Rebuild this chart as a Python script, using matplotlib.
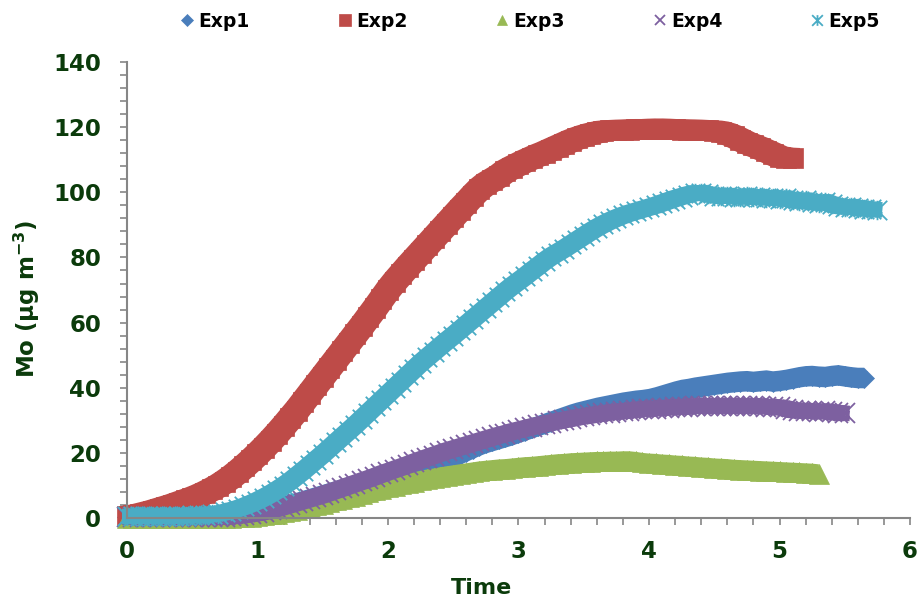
import numpy as np
import matplotlib.pyplot as plt
from matplotlib.path import Path
from matplotlib.transforms import offset_copy

# sampling step of the time series (h)
dt = 0.05

exp1 = [0.3, 0.3, 0.3, 0.3, 0.3, 0.3, 0.3, 0.3, 0.3, 0.3, 0.4, 0.4, 0.4, 0.5, 0.5, 0.6,
        0.8, 1.0, 1.3, 1.6, 1.9, 2.3, 2.7, 3.1, 3.6, 4.1, 4.6, 5.2, 5.8, 6.4,
        7.0, 7.6, 8.2, 8.8, 9.4, 10.0, 10.6, 11.2, 11.8, 12.4,
        13.0, 13.6, 14.1, 14.6, 15.1, 15.6, 16.1, 16.6, 17.2, 17.9,
        18.7, 19.5, 20.4, 21.3, 22.2, 23.0, 23.6, 24.2, 24.8, 25.4,
        26.1, 26.8, 27.5, 28.2, 28.9, 29.6, 30.3, 31.0, 31.7, 32.3,
        32.8, 33.3, 33.8, 34.2, 34.6, 35.0, 35.4, 35.7, 36.0, 36.2,
        36.5, 37.0, 37.6, 38.2, 38.8, 39.3, 39.6, 40.0, 40.3, 40.6,
        40.9, 41.2, 41.5, 41.7, 41.9, 42.0, 41.8, 42.0, 42.2, 41.9,
        42.1, 42.4, 42.8, 43.2, 43.5, 43.6, 43.4, 43.3, 43.6, 43.8,
        43.5, 43.2, 43.0, 43.0]

exp2 = [0.5, 0.8, 1.2, 1.7, 2.2, 2.8, 3.4, 4.0, 4.7, 5.4,
        6.1, 6.9, 7.8, 8.8, 9.9, 11.2, 12.6, 14.2, 15.9, 17.7,
        19.6, 21.6, 23.7, 25.9, 28.2, 30.6, 33.0, 35.6, 38.2, 40.8,
        43.4, 46.0, 48.6, 51.2, 53.8, 56.4, 59.0, 61.7, 64.4, 67.2,
        70.0, 72.5, 74.8, 77.1, 79.3, 81.5, 83.7, 85.9, 88.1, 90.3,
        92.5, 94.7, 96.8, 99.0, 101.0, 102.6, 103.8, 105.0, 106.5, 107.6,
        108.6, 109.6, 110.5, 111.4, 112.2, 113.1, 114.0, 114.9, 115.8, 116.6,
        117.3, 117.9, 118.4, 118.8, 119.0, 119.1, 119.2, 119.2, 119.3, 119.4,
        119.4, 119.5, 119.5, 119.4, 119.3, 119.2, 119.2, 119.2, 119.1, 119.0,
        118.9, 118.6, 118.0, 117.2, 116.2, 115.2, 114.4, 113.6, 112.7, 111.8,
        110.9, 110.6, 110.5]

exp3 = [0.1, 0.1, 0.1, 0.1, 0.1, 0.1, 0.1, 0.1, 0.1, 0.1, 0.1, 0.1, 0.1, 0.1, 0.1, 0.1, 0.1,
        0.2, 0.3, 0.4, 0.6, 0.8, 1.1, 1.4, 1.8, 2.2, 2.6, 3.0, 3.5, 3.9,
        4.4, 4.9, 5.4, 5.9, 6.4, 6.9, 7.4, 7.9, 8.5, 9.0,
        9.5, 9.9, 10.4, 10.8, 11.2, 11.6, 12.0, 12.3, 12.7, 13.0,
        13.3, 13.6, 13.9, 14.2, 14.5, 14.7, 14.9, 15.1, 15.2, 15.4,
        15.6, 15.8, 15.9, 16.1, 16.3, 16.5, 16.7, 16.8, 17.0, 17.1,
        17.2, 17.3, 17.4, 17.4, 17.5, 17.5, 17.6, 17.6, 17.4, 17.1,
        16.9, 16.8, 16.6, 16.5, 16.3, 16.2, 16.0, 15.9, 15.7, 15.6,
        15.4, 15.3, 15.2, 15.0, 14.9, 14.8, 14.7, 14.6, 14.5, 14.4,
        14.3, 14.2, 14.1, 14.0, 13.9, 13.8, 13.6]

exp4 = [0.3, 0.3, 0.3, 0.3, 0.3, 0.3, 0.3, 0.3, 0.3, 0.3, 0.3, 0.3, 0.3, 0.3, 0.3,
        0.4, 0.5, 0.7, 0.9, 1.2, 1.5, 1.9, 2.4, 2.9, 3.5, 4.1, 4.7, 5.3, 5.9, 6.5,
        7.1, 7.8, 8.5, 9.2, 9.9, 10.6, 11.3, 12.0, 12.7, 13.5,
        14.2, 14.9, 15.6, 16.3, 17.1, 17.8, 18.5, 19.2, 19.9, 20.6,
        21.2, 21.8, 22.4, 23.0, 23.6, 24.2, 24.8, 25.4, 25.9, 26.5,
        27.0, 27.5, 28.0, 28.5, 28.9, 29.3, 29.7, 30.1, 30.5, 30.9,
        31.2, 31.5, 31.8, 32.1, 32.4, 32.6, 32.8, 33.0, 33.2, 33.4,
        33.5, 33.6, 33.8, 33.9, 34.0, 34.1, 34.2, 34.3, 34.4, 34.4,
        34.4, 34.5, 34.4, 34.5, 34.4, 34.4, 34.3, 34.4, 34.2, 34.1,
        34.0, 33.6, 33.1, 32.9, 33.0, 32.8, 32.7, 32.8, 32.5, 32.3,
        32.1]

exp5 = [0.5, 0.5, 0.6, 0.5, 0.6, 0.6, 0.7, 0.6, 0.7, 0.7, 0.8, 0.8, 0.9,
        1.1, 1.4, 1.8, 2.3, 2.9, 3.6, 4.4,
        5.3, 6.3, 7.4, 8.6, 9.9, 11.3, 12.9, 14.5, 16.2, 17.9,
        19.6, 21.4, 23.2, 25.0, 26.8, 28.6, 30.5, 32.4, 34.3, 36.2,
        38.1, 40.0, 41.9, 43.8, 45.7, 47.6, 49.3, 51.0, 52.7, 54.4,
        56.0, 57.7, 59.4, 61.1, 62.8, 64.5, 66.2, 67.9, 69.6, 71.2,
        72.7, 74.2, 75.8, 77.3, 78.9, 80.3, 81.5, 82.7, 84.0, 85.3,
        86.6, 87.9, 89.1, 90.2, 91.2, 92.1, 92.9, 93.6, 94.2, 94.8,
        95.4, 96.0, 96.7, 97.4, 98.1, 98.7, 99.3, 99.8, 99.9, 99.4,
        99.0, 98.8, 99.0, 98.7, 98.6, 98.8, 98.5, 98.6, 98.3, 98.4,
        98.0, 98.2, 97.6, 97.3, 97.6, 97.0, 96.7, 97.1, 96.3, 95.8,
        95.5, 95.6, 95.2, 95.0, 94.8, 94.6]

labels = ['Exp1', 'Exp2', 'Exp3', 'Exp4', 'Exp5']
colors = ['#4A7EBB', '#BE4B48', '#98B954', '#7D60A0', '#4AACC5']

# star marker: vertical bar plus an x
star = Path([(0, -1), (0, 1), (-1, -1), (1, 1), (-1, 1), (1, -1)],
            [Path.MOVETO, Path.LINETO, Path.MOVETO, Path.LINETO, Path.MOVETO, Path.LINETO])

styles = [
    dict(marker='D', ms=10.5, mew=0.5),
    dict(marker='s', ms=14.5, mew=0.5),
    dict(marker='^', ms=14, mew=0.5),
    dict(marker='x', ms=14, mew=1.3),
    dict(marker=star, ms=14, mew=1.3),
]


def square_pts(a):
    return [(-a, -a), (0, -a), (a, -a), (a, 0), (a, a), (0, a), (-a, a), (-a, 0)]


# outline (points) swept along each series so the dense points read as one band
sweeps = [
    ([(0, 5.4), (2.6, 2.7), (4.3, 0), (2.6, -2.7), (0, -5.4),
      (-2.6, -2.7), (-4.3, 0), (-2.6, 2.7)], 12),
    (square_pts(5.3), 13),
    ([(0, 4.8), (2.6, 0), (5.0, -5.0), (0, -5.0), (-5.0, -5.0), (-2.6, 0)], 10),
    (square_pts(3.6), 11),
    (square_pts(3.6), 11),
]

txt_color = '#0b3b0b'
axis_color = '#868686'

fig = plt.figure(figsize=(9.22, 6.01), dpi=100)
ax = fig.add_axes([0.1377, 0.138, 0.8493, 0.7588])

for data, lab, col, st, (pts, core) in zip([exp1, exp2, exp3, exp4, exp5],
                                          labels, colors, styles, sweeps):
    t = np.arange(len(data)) * dt
    ax.plot(t, data, '-', lw=core, color=col, solid_joinstyle='round',
            solid_capstyle='butt', clip_on=False, label='_nolegend_')
    for dx, dy in pts:
        tr = offset_copy(ax.transData, fig=fig, x=dx, y=dy, units='points')
        ax.plot(t, data, '-', lw=4, color=col, transform=tr, solid_joinstyle='round',
                solid_capstyle='butt', clip_on=False, label='_nolegend_')
    ax.plot(t, data, linestyle='none', color=col, mec=col, mfc=col,
            label=lab, clip_on=False, **st)

ax.set_xlim(0, 6)
ax.set_ylim(0, 140)
ax.set_xticks(np.arange(0, 7, 1))
ax.set_xticks(np.arange(0, 6.01, 0.2), minor=True)
ax.set_yticks(np.arange(0, 141, 20))
ax.set_yticks(np.arange(0, 141, 4), minor=True)

for s in ['top', 'right']:
    ax.spines[s].set_visible(False)
for s in ['left', 'bottom']:
    ax.spines[s].set_color(axis_color)
    ax.spines[s].set_linewidth(1.5)

ax.tick_params(which='both', direction='out', color=axis_color, width=1.2, length=5)
ax.tick_params(axis='x', which='major', pad=10.5)
ax.tick_params(axis='y', which='major', pad=13.5)
for lbl in ax.get_xticklabels() + ax.get_yticklabels():
    lbl.set_fontsize(16.5)
    lbl.set_fontweight('bold')
    lbl.set_color(txt_color)

ax.set_xlabel('Time', fontsize=16, fontweight='bold', color=txt_color, va='baseline')
ax.xaxis.set_label_coords(0.453, -0.1667)
ax.set_ylabel('Mo (µg m$^{\\mathbf{-3}}$)', fontsize=16.5, fontweight='bold',
              color=txt_color)
ax.yaxis.set_label_coords(-0.108, 0.48)

fig.legend(loc='center left', bbox_to_anchor=(0.197, 0.965), ncol=5, frameon=False,
           markerscale=0.55, handlelength=0.6, handletextpad=0.31, columnspacing=4.75,
           borderaxespad=0, borderpad=0,
           prop={'weight': 'bold', 'size': 13.5})

plt.savefig('out.png', dpi=100)
